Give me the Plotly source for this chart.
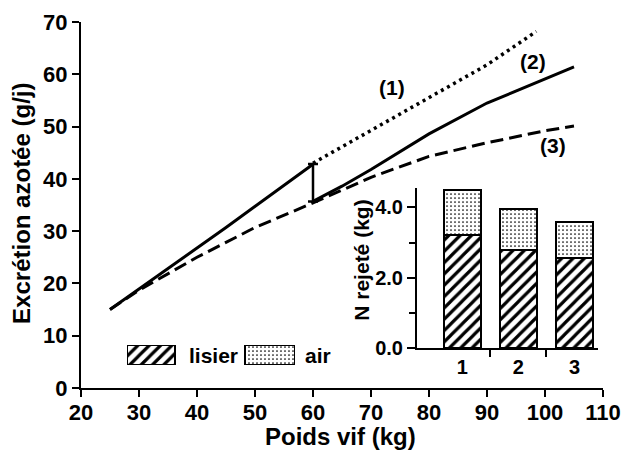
import plotly.graph_objects as go

# ---------------- data ----------------
# common curve (solid) before 60 kg
x_common = [25, 35, 45, 60]
y_common = [15.0, 22.8, 30.7, 42.8]
# (1) dotted after 60 kg
x_1 = [60, 70, 80, 90, 98.5]
y_1 = [43.0, 49.3, 55.5, 61.8, 68.2]
# (2) solid after 60 kg
x_2 = [60, 65, 70, 80, 90, 100, 105]
y_2 = [35.7, 38.6, 41.8, 48.6, 54.5, 59.2, 61.4]
# (3) dashed
x_3 = [25, 30, 40, 50, 60, 70, 80, 90, 100, 105]
y_3 = [15.0, 18.7, 25.0, 30.7, 35.4, 40.3, 44.3, 46.9, 49.2, 50.1]
# step at 60 kg
x_step = [60]
y_step_mid = [39.25]
y_step_half = [3.6]

# inset bars
bar_cats = [1, 2, 3]
bar_labels = ["1", "2", "3"]
lisier = [3.2, 2.8, 2.57]
air = [1.3, 1.15, 1.0]

x_ticks = list(range(20, 111, 10))
y_ticks = list(range(0, 71, 10))

FONT = "Liberation Sans, Arial, sans-serif"
BLACK = "black"

HATCH = dict(shape="/", fgcolor=BLACK, bgcolor="white", size=8, solidity=0.4)
DOTS = dict(shape=".", fgcolor=BLACK, bgcolor="white", size=4, solidity=0.15)

fig = go.Figure()

fig.add_trace(go.Scatter(x=x_common, y=y_common, mode="lines",
                         line=dict(color=BLACK, width=3), showlegend=False))
fig.add_trace(go.Scatter(x=x_2, y=y_2, mode="lines",
                         line=dict(color=BLACK, width=3), showlegend=False))
fig.add_trace(go.Scatter(x=x_3, y=y_3, mode="lines",
                         line=dict(color=BLACK, width=3, dash="13px,6px"), showlegend=False))
fig.add_trace(go.Scatter(x=x_1, y=y_1, mode="lines",
                         line=dict(color=BLACK, width=3.5, dash="3px,4px"), showlegend=False))
fig.add_trace(go.Scatter(x=x_step, y=y_step_mid, mode="markers",
                         marker=dict(size=1, color="rgba(0,0,0,0)"),
                         error_y=dict(type="data", array=y_step_half, visible=True,
                                      color=BLACK, thickness=2.5, width=5),
                         showlegend=False))

# inset stacked bars
fig.add_trace(go.Bar(x=bar_cats, y=lisier, xaxis="x2", yaxis="y2", width=0.66,
                     marker=dict(color="white", line=dict(color=BLACK, width=2), pattern=HATCH),
                     showlegend=False))
fig.add_trace(go.Bar(x=bar_cats, y=air, xaxis="x2", yaxis="y2", width=0.66,
                     marker=dict(color="white", line=dict(color=BLACK, width=2), pattern=DOTS),
                     showlegend=False))

# legend keys (helper axis)
fig.add_trace(go.Bar(x=[24], y=[1], width=[48], xaxis="x3", yaxis="y3",
                     marker=dict(color="white", line=dict(color=BLACK, width=2), pattern=HATCH),
                     showlegend=False, hoverinfo="skip"))
fig.add_trace(go.Bar(x=[143], y=[1], width=[50], xaxis="x3", yaxis="y3",
                     marker=dict(color="white", line=dict(color=BLACK, width=2), pattern=DOTS),
                     showlegend=False, hoverinfo="skip"))

axis_common = dict(showgrid=False, zeroline=False, showline=True, linecolor=BLACK,
                   linewidth=2, ticks="outside", tickcolor=BLACK, tickwidth=2, automargin=False)

TICKFONT = dict(size=22, family=FONT, color=BLACK, weight="bold")
INSETFONT = dict(size=20, family=FONT, color=BLACK, weight="bold")


def ann(text, x, y, size, xref="paper", yref="paper", angle=0):
    return dict(text=text, x=x, y=y, xref=xref, yref=yref, textangle=angle,
                xanchor="center", yanchor="middle", showarrow=False,
                font=dict(size=size, family=FONT, color=BLACK, weight="bold"))


annotations = [
    ann("Excrétion azotée (g/j)", -0.113, 0.503, 24, angle=-90),
    ann("Poids vif (kg)", 0.498, -0.133, 24),
    ann("N rejeté (kg)", 0.538, 0.35, 21, angle=-90),
    ann("(1)", 73.6, 57.5, 21, "x", "y"),
    ann("(2)", 98, 62.5, 21, "x", "y"),
    ann("(3)", 101.4, 46.3, 21, "x", "y"),
    ann("lisier", 0.253, 0.090, 21),
    ann("air", 0.454, 0.090, 21),
]

fig.update_layout(
    template="none",
    width=627, height=455,
    margin=dict(l=81, r=24, t=22, b=67, autoexpand=False),
    plot_bgcolor="white", paper_bgcolor="white",
    font=dict(family=FONT, color=BLACK),
    barmode="stack",
    showlegend=False,
    xaxis=dict(range=[20, 110], tickvals=x_ticks, ticklen=7, tickfont=TICKFONT,
               ticklabelstandoff=-3, **axis_common),
    yaxis=dict(range=[0, 70], tickvals=y_ticks, ticklen=7, tickfont=TICKFONT, **axis_common),
    xaxis2=dict(domain=[0.6437, 0.9904], anchor="y2", range=[0.19, 3.42],
                tickvals=bar_cats, ticktext=bar_labels, showgrid=False, zeroline=False,
                showline=True, linecolor=BLACK, linewidth=2, ticks="", automargin=False,
                tickfont=INSETFONT,
                minor=dict(tickmode="array", tickvals=[1.5, 2.5], ticks="outside",
                           ticklen=7, tickwidth=2, tickcolor=BLACK, showgrid=False)),
    yaxis2=dict(domain=[0.1093, 0.5464], anchor="x2", range=[0, 4.55],
                tickvals=[0, 2, 4], ticktext=["0.0", "2.0", "4.0"], ticklen=8,
                tickfont=INSETFONT,
                minor=dict(tickmode="array", tickvals=[1, 3], ticks="outside",
                           ticklen=6, tickwidth=2, tickcolor=BLACK, showgrid=False),
                **axis_common),
    xaxis3=dict(domain=[0.0881, 0.41], anchor="y3", range=[0, 168], visible=False,
                fixedrange=True, automargin=False),
    yaxis3=dict(domain=[0.0628, 0.1175], anchor="x3", range=[0, 1], visible=False,
                fixedrange=True, automargin=False),
    annotations=annotations,
)

fig.write_html("out.html", config={"displayModeBar": False},
               post_script="document.body.style.margin='0';document.body.style.overflow='hidden';")
